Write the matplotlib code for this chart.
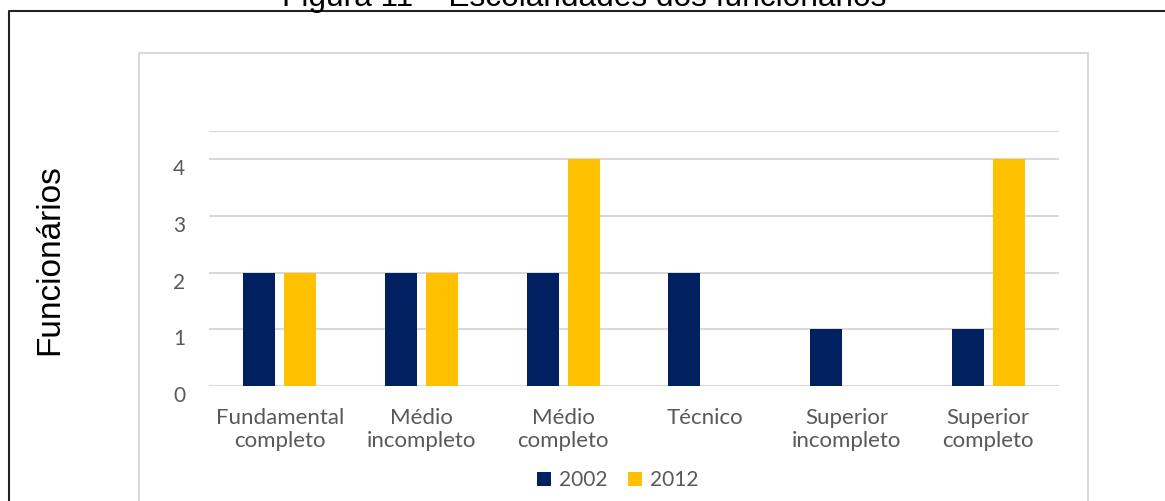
import numpy as np
import matplotlib.pyplot as plt
from matplotlib.lines import Line2D

# data
categorias = ["Fundamental\ncompleto", "Médio\nincompleto", "Médio\ncompleto",
              "Técnico", "Superior\nincompleto", "Superior\ncompleto"]
anos = ["2002", "2012"]
valores_2002 = [2, 2, 2, 2, 1, 1]
valores_2012 = [2, 2, 4, 0, 0, 4]

cor_2002 = "#002060"
cor_2012 = "#FFC000"
cinza = "#595959"
grade = "#D9D9D9"

W, H = 1165, 501
fig = plt.figure(figsize=(W / 100, H / 100), dpi=100)

# axes placed in pixel coords of the reference
ax = fig.add_axes([209 / W, 1 - 386 / H, 850 / W, 255 / H])

x = np.arange(len(categorias))
larg = 0.226
ax.bar(x - 0.145, valores_2002, larg, color=cor_2002, label=anos[0], zorder=3)
ax.bar(x + 0.145, valores_2012, larg, color=cor_2012, label=anos[1], zorder=3)

ax.set_xlim(-0.5, len(categorias) - 0.5)
ax.set_ylim(0, 4.5)
ax.set_yticks([0, 1, 2, 3, 4])
ax.yaxis.grid(True, color=grade, linewidth=1.5, zorder=0)
ax.axhline(4.5, color=grade, linewidth=1.5, zorder=0)
for s in ax.spines.values():
    s.set_visible(False)
ax.tick_params(length=0)
ax.tick_params(axis="y", pad=17, labelsize=15, labelcolor=cinza)
ax.tick_params(axis="x", pad=16, labelsize=16, labelcolor=cinza)
ax.set_xticks(x)
ax.set_xticklabels(categorias, fontfamily="Lato", linespacing=1.15)
for t in ax.get_yticklabels():
    t.set_fontfamily("Lato")
    t.set_va("top")

leg = ax.legend(loc="center", bbox_to_anchor=(618 / W, 1 - 480 / H),
                bbox_transform=fig.transFigure, ncol=2, frameon=False,
                prop={"family": "Lato", "size": 15}, handlelength=0.65,
                handleheight=0.65, handletextpad=0.4, columnspacing=1.0)
for t in leg.get_texts():
    t.set_color(cinza)

# y label and (cut) title
fig.text(50 / W, 1 - 260 / H, "Funcionários", rotation=90, ha="center",
         va="center", fontsize=24, fontfamily="Liberation Sans")
fig.text(584 / W, 1 - 6 / H, "Figura 11 – Escolaridades dos funcionários",
         ha="center", va="baseline", fontsize=22.8, fontfamily="Liberation Sans")

# outer border (left + top) and inner chart border
fig.add_artist(Line2D([9 / W, 9 / W, 1.01], [-0.01, 1 - 11 / H, 1 - 11 / H],
                      transform=fig.transFigure, color="#222222", linewidth=1.5))
fig.add_artist(Line2D([139 / W, 139 / W, 1088 / W, 1088 / W],
                      [-0.01, 1 - 53 / H, 1 - 53 / H, -0.01],
                      transform=fig.transFigure, color=grade, linewidth=1.5))

fig.savefig("out.png", dpi=100)
